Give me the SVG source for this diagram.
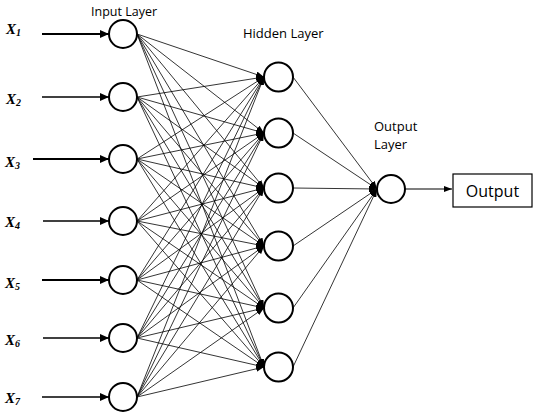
<svg xmlns="http://www.w3.org/2000/svg" width="537" height="415" viewBox="0 0 537 415">
<style>
.node{fill:#fff;stroke:#000;stroke-width:2}
.mesh line{stroke:#000;stroke-width:0.8;marker-end:url(#sm)}
.inarr{stroke:#000;stroke-width:2;marker-end:url(#bg)}
.xl{font-family:"Liberation Serif",serif;font-style:italic;font-weight:bold;font-size:15px}
.xl tspan{font-size:10px}
.lbl{font-family:"Open Sans","Liberation Sans",sans-serif;fill:#000}
</style>
<defs>
<marker id="sm" markerUnits="userSpaceOnUse" markerWidth="8" markerHeight="6" refX="8" refY="3" orient="auto"><path d="M0,0 L8,3 L0,6 z" fill="#000"/></marker>
<marker id="bg" markerUnits="userSpaceOnUse" markerWidth="9" markerHeight="8" refX="9" refY="4" orient="auto"><path d="M0,0 L9,4 L0,8 z" fill="#000"/></marker>
</defs>
<rect width="537" height="415" fill="#fff"/>
<g id="connectors">
<line class="inarr" x1="42" y1="34" x2="109" y2="34"/>
<line class="inarr" x1="42" y1="97" x2="109" y2="97" style="stroke-width:1.5"/>
<line class="inarr" x1="33" y1="159" x2="109" y2="159"/>
<line class="inarr" x1="43" y1="221" x2="109" y2="221" style="stroke-width:1.5"/>
<line class="inarr" x1="42" y1="280" x2="109" y2="280"/>
<line class="inarr" x1="43" y1="338" x2="109" y2="338" style="stroke-width:1.5"/>
<line class="inarr" x1="42" y1="397" x2="109" y2="397" style="stroke-width:1.5"/>
<g class="mesh">
<line x1="137" y1="34" x2="264" y2="77"/><line x1="137" y1="34" x2="264" y2="133"/><line x1="137" y1="34" x2="264" y2="188"/><line x1="137" y1="34" x2="264" y2="246"/><line x1="137" y1="34" x2="264" y2="308"/><line x1="137" y1="34" x2="264" y2="367"/>
<line x1="137" y1="97" x2="264" y2="77"/><line x1="137" y1="97" x2="264" y2="133"/><line x1="137" y1="97" x2="264" y2="188"/><line x1="137" y1="97" x2="264" y2="246"/><line x1="137" y1="97" x2="264" y2="308"/><line x1="137" y1="97" x2="264" y2="367"/>
<line x1="137" y1="159" x2="264" y2="77"/><line x1="137" y1="159" x2="264" y2="133"/><line x1="137" y1="159" x2="264" y2="188"/><line x1="137" y1="159" x2="264" y2="246"/><line x1="137" y1="159" x2="264" y2="308"/><line x1="137" y1="159" x2="264" y2="367"/>
<line x1="137" y1="221" x2="264" y2="77"/><line x1="137" y1="221" x2="264" y2="133"/><line x1="137" y1="221" x2="264" y2="188"/><line x1="137" y1="221" x2="264" y2="246"/><line x1="137" y1="221" x2="264" y2="308"/><line x1="137" y1="221" x2="264" y2="367"/>
<line x1="137" y1="280" x2="264" y2="77"/><line x1="137" y1="280" x2="264" y2="133"/><line x1="137" y1="280" x2="264" y2="188"/><line x1="137" y1="280" x2="264" y2="246"/><line x1="137" y1="280" x2="264" y2="308"/><line x1="137" y1="280" x2="264" y2="367"/>
<line x1="137" y1="338" x2="264" y2="77"/><line x1="137" y1="338" x2="264" y2="133"/><line x1="137" y1="338" x2="264" y2="188"/><line x1="137" y1="338" x2="264" y2="246"/><line x1="137" y1="338" x2="264" y2="308"/><line x1="137" y1="338" x2="264" y2="367"/>
<line x1="137" y1="397" x2="264" y2="77"/><line x1="137" y1="397" x2="264" y2="133"/><line x1="137" y1="397" x2="264" y2="188"/><line x1="137" y1="397" x2="264" y2="246"/><line x1="137" y1="397" x2="264" y2="308"/><line x1="137" y1="397" x2="264" y2="367"/>
<line x1="293" y1="77" x2="377" y2="189"/><line x1="293" y1="133" x2="377" y2="189"/><line x1="293" y1="188" x2="377" y2="189"/><line x1="293" y1="246" x2="377" y2="189"/><line x1="293" y1="308" x2="377" y2="189"/><line x1="293" y1="367" x2="377" y2="189"/>
</g>
<line x1="405" y1="189" x2="452" y2="189" stroke="#000" stroke-width="1.2" marker-end="url(#sm)"/>
</g>
<g id="labels">
<text class="xl" x="6" y="34">X<tspan dy="2">1</tspan></text>
<text class="xl" x="6" y="104">X<tspan dy="2">2</tspan></text>
<text class="xl" x="5" y="167">X<tspan dy="2">3</tspan></text>
<text class="xl" x="5" y="227">X<tspan dy="2">4</tspan></text>
<text class="xl" x="5" y="288">X<tspan dy="2">5</tspan></text>
<text class="xl" x="5" y="345">X<tspan dy="2">6</tspan></text>
<text class="xl" x="5" y="403">X<tspan dy="2">7</tspan></text>
<text class="lbl" x="91" y="16" font-size="12.5">Input Layer</text>
<text class="lbl" x="243" y="38" font-size="13">Hidden Layer</text>
<text class="lbl" x="374" y="131" font-size="13">Output</text>
<text class="lbl" x="374" y="149" font-size="13">Layer</text>
</g>
<g id="input-layer">
<circle id="in1" class="node" cx="123" cy="34" r="14"/>
<circle id="in2" class="node" cx="123" cy="97" r="14"/>
<circle id="in3" class="node" cx="123" cy="159" r="14"/>
<circle id="in4" class="node" cx="123" cy="221" r="14"/>
<circle id="in5" class="node" cx="123" cy="280" r="14"/>
<circle id="in6" class="node" cx="123" cy="338" r="14"/>
<circle id="in7" class="node" cx="123" cy="397" r="14"/>
</g>
<g id="hidden-layer">
<circle id="h1" class="node" cx="278.5" cy="77" r="14.5"/>
<circle id="h2" class="node" cx="278.5" cy="133" r="14.5"/>
<circle id="h3" class="node" cx="278.5" cy="188" r="14.5"/>
<circle id="h4" class="node" cx="278.5" cy="246" r="14.5"/>
<circle id="h5" class="node" cx="278.5" cy="308" r="14.5"/>
<circle id="h6" class="node" cx="278.5" cy="367" r="14.5"/>
</g>
<g id="output-node">
<circle class="node" cx="391" cy="189" r="14"/>
</g>
<g id="output-box">
<rect x="453" y="174" width="79" height="33" fill="#fff" stroke="#000" stroke-width="1.2"/>
<text class="lbl" x="492.5" y="197" font-size="16" text-anchor="middle">Output</text>
</g>
</svg>
